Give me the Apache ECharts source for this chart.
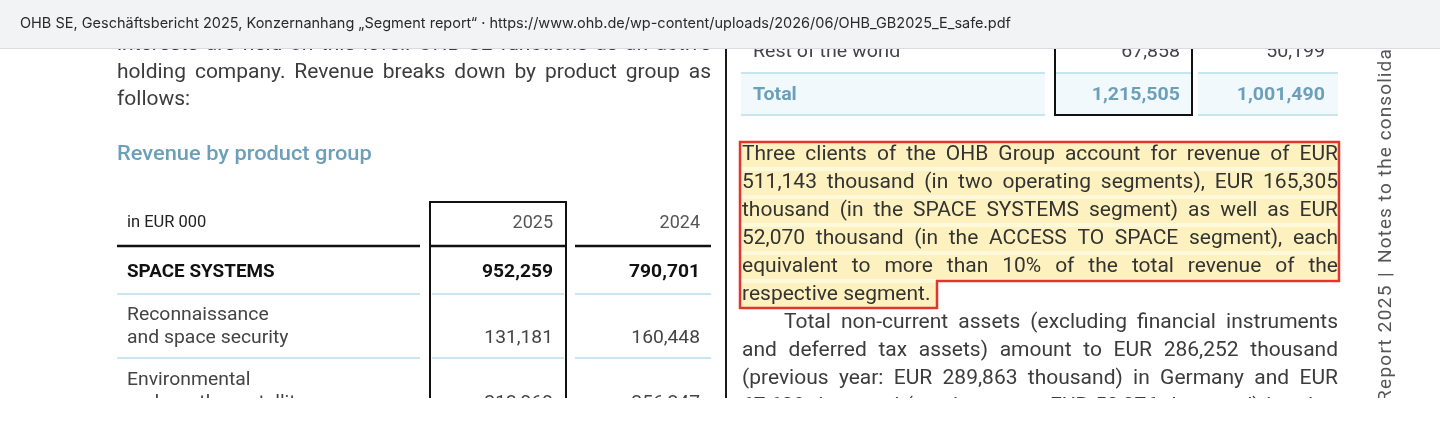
<!DOCTYPE html>
<html><head><meta charset="utf-8">
<script src="https://cdn.jsdelivr.net/npm/echarts@6/dist/echarts.min.js"></script>
<style>html,body{margin:0;padding:0;background:#fff;overflow:hidden}#c{width:1440px;height:439px}</style>
</head><body><div id="c"></div>
<script>
// ---------- data ----------
const sourceNote = "OHB SE, Geschäftsbericht 2025, Konzernanhang „Segment report“ · https://www.ohb.de/wp-content/uploads/2026/06/OHB_GB2025_E_safe.pdf";
const introLines = [
  "interests are held on this level. OHB SE functions as an active",
  "holding company. Revenue breaks down by product group as",
  "follows:"
];
const tableTitle = "Revenue by product group";
const unitLabel = "in EUR 000";
const years = ["2025", "2024"];
const productGroups = [["SPACE SYSTEMS"], ["Reconnaissance", "and space security"], ["Environmental", "and weather satellites"]];
const revenue2025 = [952259, 131181, 213969];
const revenue2024 = [790701, 160448, 256247];
const regionLabels = ["Rest of the world", "Total"];
const region2025 = [67858, 1215505];
const region2024 = [50199, 1001490];
const highlightLines = [
  "Three clients of the OHB Group account for revenue of EUR",
  "511,143 thousand (in two operating segments), EUR 165,305",
  "thousand (in the SPACE SYSTEMS segment) as well as EUR",
  "52,070 thousand (in the ACCESS TO SPACE segment), each",
  "equivalent to more than 10% of the total revenue of the",
  "respective segment."
];
const paragraphLines = [
  "Total non-current assets (excluding financial instruments",
  "and deferred tax assets) amount to EUR 286,252 thousand",
  "(previous year: EUR 289,863 thousand) in Germany and EUR",
  "67,609 thousand (previous year: EUR 50,376 thousand) in other"
];
const sideText = ["Report 2025", "|", "Notes to the consolidated financial statements"];

// ---------- helpers ----------
const fmt = v => v.toLocaleString('en-US');
const ctx = document.createElement('canvas').getContext('2d');
function measure(t, font) { ctx.font = font; return ctx.measureText(t).width; }
function txt(text, x, y, font, fill, align, z, sx) {
  return { type: 'text', z: z || 10, x, y, scaleX: sx || 1, style: { text, x: 0, y: 0, font, fill, align: align || 'left', verticalAlign: 'middle', textAlign: align || 'left', textVerticalAlign: 'middle' } };
}
function line(x1, y1, x2, y2, stroke, w, z) {
  return { type: 'line', z: z || 5, shape: { x1, y1, x2, y2 }, style: { stroke, lineWidth: w } };
}
function rect(x, y, w, h, fill, z) {
  return { type: 'rect', z: z || 1, shape: { x, y, width: w, height: h }, style: { fill } };
}
const SX = 1.05;
function textLine(text, x0, x1, y, font, fill, justify) {
  if (!justify) return [txt(text, x0, y, font, fill, 'left', 10, SX)];
  const words = text.split(' ');
  const ws = words.map(w => measure(w, font) * SX);
  const sum = ws.reduce((a, b) => a + b, 0);
  const gap = Math.max(3, (x1 - x0 - sum) / (words.length - 1));
  let x = x0;
  return words.map((w, i) => { const el = txt(w, x, y, font, fill, 'left', 10, SX); x += ws[i] + gap; return el; });
}
function spaced(text, x0, font, fill, sp) {
  const out = []; let x = x0;
  for (const ch of text) { out.push(txt(ch, x, 0, font, fill)); x += measure(ch, font) + sp; }
  return out;
}

// ---------- build ----------
const BODY = "20px Roboto", BODYC = "#3c3c3c", BLUE = "#6c9fba", RULE = "#b5dcee";
const els = [];

// left column intro text
const lx0 = 117, lx1 = 711;
introLines.forEach((t, i) => els.push(...textLine(t, lx0, lx1, 45 + i * 27.5, BODY, BODYC, i < introLines.length - 1)));
els.push(txt(tableTitle, lx0, 155, "500 21px Roboto", BLUE, 'left', 10, 1.04));

// left table
els.push(txt(unitLabel, 127, 223, "16px Roboto", "#222", 'left', 10, 1.03));
els.push(txt(years[0], 553, 223, "18px Roboto", "#555", 'right'));
els.push(txt(years[1], 700, 223, "18px Roboto", "#555", 'right'));
// header box for current year
els.push(line(430, 202, 566, 202, "#111", 2));
els.push(line(430, 201, 430, 398, "#111", 2));
els.push(line(566, 201, 566, 398, "#111", 2));
// thick rule under header
[[117, 420], [430, 566], [575, 711]].forEach(s => els.push(line(s[0], 246, s[1], 246, "#111", 2.5)));
const rowY = [272, 338, 403];
productGroups.forEach((lbl, i) => {
  const bold = i === 0;
  const f = bold ? "bold 18.5px Roboto" : "18.5px Roboto";
  const c = bold ? "#111" : "#444";
  lbl.forEach((l, k) => els.push(txt(l, 127, rowY[i] - (lbl.length - 1 - k) * 23, bold ? "bold 18.5px Roboto" : "19px Roboto", c, 'left', 10, 1.02)));
  els.push(txt(fmt(revenue2025[i]), 553, rowY[i], f, c, 'right', 10, 1.04));
  els.push(txt(fmt(revenue2024[i]), 700, rowY[i], f, c, 'right', 10, 1.04));
});
[294, 358].forEach(y => [[117, 420], [432, 564], [575, 711]].forEach(s => els.push(line(s[0], y, s[1], y, RULE, 1.5))));

// page divider
els.push(line(726, 48, 726, 398, "#1a1a1a", 2));

// right table
const rsegs = [[741, 1045], [1056, 1191], [1198, 1338]];
rsegs.forEach(s => els.push(rect(s[0], 73, s[1] - s[0], 42, "#f2f9fd", 1)));
rsegs.forEach(s => { els.push(line(s[0], 73, s[1], 73, RULE, 1.5)); els.push(line(s[0], 115, s[1], 115, RULE, 1.5)); });
els.push(line(1055, 40, 1055, 115, "#111", 2));
els.push(line(1192, 40, 1192, 115, "#111", 2));
els.push(line(1054, 115, 1193, 115, "#111", 2));
const rY = [52, 95];
regionLabels.forEach((l, i) => {
  const tot = i === 1;
  const f = tot ? "bold 19px Roboto" : "19px Roboto";
  const c = tot ? BLUE : "#444";
  els.push(txt(l, 753, rY[i], f, c, 'left', 10, 1.03));
  els.push(txt(fmt(region2025[i]), 1180, rY[i], f, c, 'right', 10, 1.03));
  els.push(txt(fmt(region2024[i]), 1325, rY[i], f, c, 'right', 10, 1.03));
});

// highlighted paragraph
const rx0 = 741, rx1 = 1338;
els.push(rect(rx0, 143, rx1 - rx0, 138, "#fff9dc", 1));
els.push(rect(rx0, 281, 937 - rx0, 26, "#fff9dc", 1));
highlightLines.forEach((t, i) => {
  const y = 155 + i * 28;
  const w = i < highlightLines.length - 1 ? rx1 - rx0 : 937 - rx0;
  els.push(rect(rx0, y - 12, w, 24, "#fdf2bf", 2));
  els.push(...textLine(t, rx0 + 1, rx1, y, BODY, "#333", i < highlightLines.length - 1));
});
els.push({ type: 'polygon', z: 8, shape: { points: [[740, 142], [1339, 142], [1339, 281], [937, 281], [937, 308], [740, 308]] }, style: { fill: 'none', stroke: "#e3352f", lineWidth: 2.5 } });

// following paragraph
paragraphLines.forEach((t, i) => els.push(...textLine(t, i === 0 ? 784 : rx0 + 1, rx1, 323 + i * 28, BODY, BODYC, true)));

// vertical running head
const SF = "19px Roboto", SC = "#555";
els.push({ type: 'group', x: 1386, y: 402, rotation: Math.PI / 2, children: [
  ...spaced(sideText[0], 0, SF, SC, 1.3),
  ...spaced(sideText[1], 125, SF, SC, 0),
  ...spaced(sideText[2], 139, SF, SC, 1.1)
] });

// clip: white below the page crop, browser bar on top
els.push(rect(0, 398, 1440, 41, "#ffffff", 50));
els.push(rect(0, 0, 1440, 48, "#f1f3f5", 50));
els.push(line(0, 48.5, 1440, 48.5, "#d9dce1", 1, 51));
els.push(txt(sourceNote, 20, 24, "14.5px Inter", "#2a2a2a", 'left', 52));

const chart = echarts.init(document.getElementById('c'), null, { renderer: 'canvas' });
chart.setOption({ animation: false, backgroundColor: '#fff', graphic: { elements: els } });
</script></body></html>
